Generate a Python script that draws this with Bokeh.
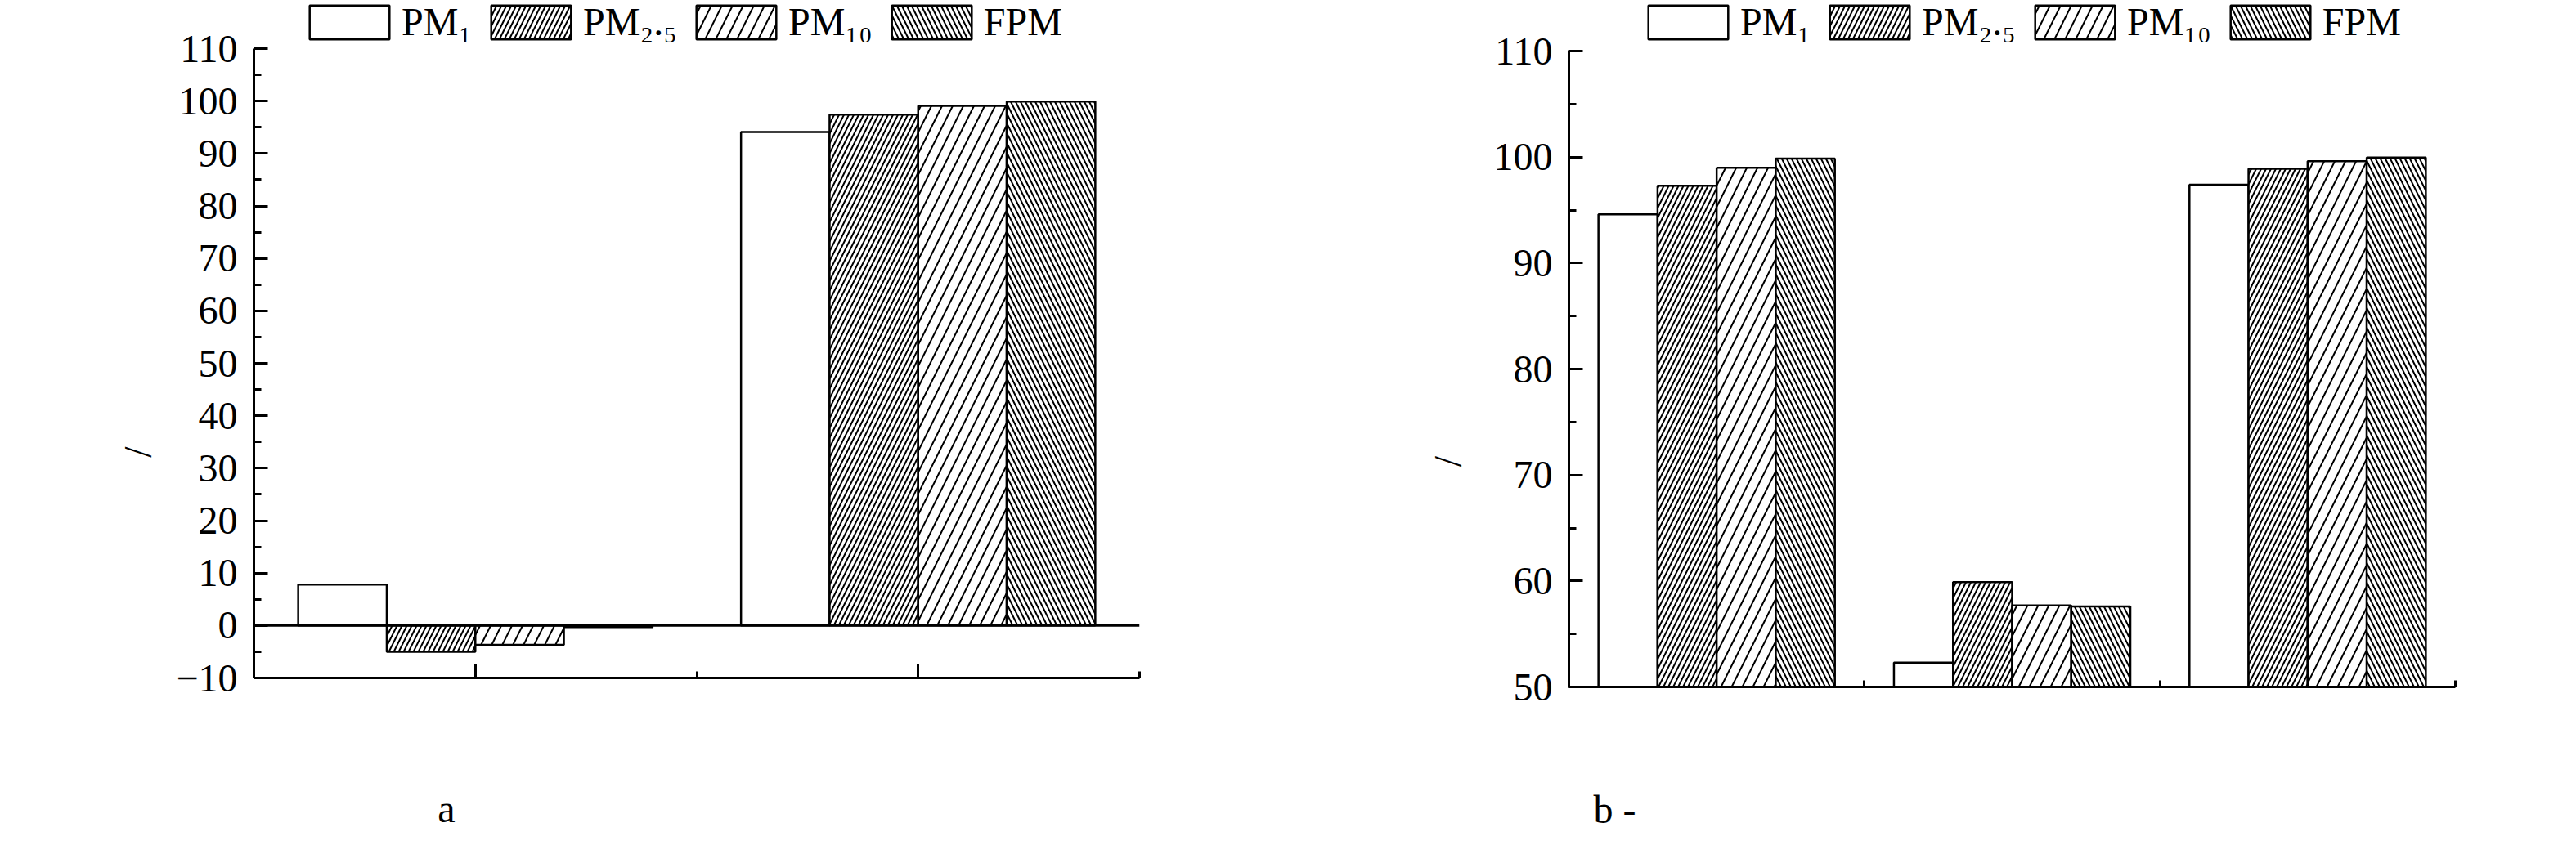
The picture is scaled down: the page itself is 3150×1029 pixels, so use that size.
import math
from bokeh.plotting import figure
from bokeh.models import Legend, LegendItem, Span, FixedTicker, Range1d
from bokeh.layouts import row
from bokeh.embed import file_html
from bokeh.resources import INLINE

# ---------------- data ----------------
series_names = ["PM\u2081", "PM\u2082.\u2085", "PM\u2081\u2080", "FPM"]

# chart a : two groups
a_groups = ["a-1", "a-2"]
a_pm1 = [7.8, 94.1]
a_pm25 = [-5.0, 97.4]
a_pm10 = [-3.7, 99.1]
a_fpm = [-0.3, 99.9]
a_yticks = [-10, 0, 10, 20, 30, 40, 50, 60, 70, 80, 90, 100, 110]

# chart b : three groups
b_groups = ["b-1", "b-2", "b-3"]
b_pm1 = [94.6, 52.3, 97.4]
b_pm25 = [97.3, 59.9, 98.9]
b_pm10 = [99.0, 57.7, 99.6]
b_fpm = [99.85, 57.6, 99.95]
b_yticks = [50, 60, 70, 80, 90, 100, 110]

# ---------------- styles ----------------
FONT = "Liberation Serif"
FS = "48px"
NB = "\u00a0"
hatch_patterns = [None, "right_diagonal_line", "right_diagonal_line", "left_diagonal_line"]
hatch_scales = [12, 12, 26, 12]
BAR_W = 0.2
LEGEND_H = 54


def make_fig(groups, series, yticks, base, frame, headroom, borders, ylab, caption, major_in, leg_x):
    n = len(groups)
    lo, hi = yticks[0], yticks[-1]
    # extra room above the axis top for the legend (in data units)
    extra = (hi - lo) * headroom / frame[1]
    fh = frame[1] + headroom
    p = figure(frame_width=frame[0], frame_height=fh,
               output_backend="svg", toolbar_location=None,
               x_range=Range1d(0.5, n + 0.5), y_range=Range1d(lo, hi + extra),
               min_border_left=borders[0], min_border_right=borders[1],
               min_border_top=0, min_border_bottom=borders[2])
    p.outline_line_color = None
    p.xgrid.visible = False
    p.ygrid.visible = False

    items = []
    for i, vals in enumerate(series):
        xs = [g + 1 + (i - 1.5) * BAR_W for g in range(n)]
        kw = dict(x=xs, top=vals, bottom=base, width=BAR_W, fill_color="white",
                  line_color="black", line_width=2.5)
        if hatch_patterns[i]:
            kw.update(hatch_pattern=hatch_patterns[i], hatch_scale=hatch_scales[i],
                      hatch_weight=2.0, hatch_color="black")
        r = p.vbar(**kw)
        items.append(LegendItem(label=series_names[i], renderers=[r]))

    if lo < 0:
        p.add_layout(Span(location=0, dimension="width", line_color="black", line_width=3))

    yax = p.yaxis[0]
    yax.ticker = FixedTicker(ticks=yticks, minor_ticks=[v + 5 for v in yticks[:-1]])
    yax.bounds = (lo, hi)
    xax = p.xaxis[0]
    xt = [g + 1 for g in range(n)]
    xax.ticker = FixedTicker(ticks=xt, minor_ticks=[g + 1.5 for g in range(n)])
    xax.major_label_overrides = {t: "" for t in xt}
    for ax in (xax, yax):
        ax.axis_line_width = 3
        ax.axis_line_color = "black"
        ax.major_tick_line_width = 3
        ax.minor_tick_line_width = 3
        ax.major_tick_line_color = "black"
        ax.minor_tick_line_color = "black"
        ax.major_tick_out = 0
        ax.minor_tick_out = 0
        ax.minor_tick_in = 8
        ax.axis_label_text_font = FONT
        ax.axis_label_text_font_size = FS
        ax.axis_label_text_font_style = "normal"
        ax.axis_label_text_color = "black"
        ax.major_label_text_font = FONT
        ax.major_label_text_font_size = FS
        ax.major_label_text_color = "black"
    xax.major_tick_in = major_in
    xax.major_label_standoff = 0
    yax.major_tick_in = 17
    yax.minor_tick_in = 9
    yax.major_label_standoff = 20
    # y label: "/" shifted downward with trailing no-break spaces
    yax.axis_label = "/" + NB * ylab[0]
    yax.axis_label_standoff = ylab[1]
    # caption under the chart, shifted left with trailing no-break spaces
    xax.axis_label = caption[0] + NB * caption[1]
    xax.axis_label_standoff = caption[2]

    legend = Legend(items=items, orientation="horizontal", location=(leg_x, fh - LEGEND_H),
                    glyph_width=122, glyph_height=52, label_standoff=3, spacing=11,
                    padding=0, margin=0, border_line_color=None, background_fill_alpha=0,
                    label_text_font=FONT, label_text_font_size=FS, label_text_color="black")
    p.add_layout(legend, "center")
    return p


p1 = make_fig(a_groups, [a_pm1, a_pm25, a_pm10, a_fpm], a_yticks, 0, (1083, 770), 59,
              (310, 175, 189), (23, 17), ("a", 51, 133), 17, 56)
p2 = make_fig(b_groups, [b_pm1, b_pm25, b_pm10, b_fpm], b_yticks, 50, (1084, 778), 62,
              (350, 136, 178), (24, 27), ("b -", 81, 123), 0, 85)

layout = row(p1, p2)
open("out.html", "w").write(file_html(layout, INLINE))
